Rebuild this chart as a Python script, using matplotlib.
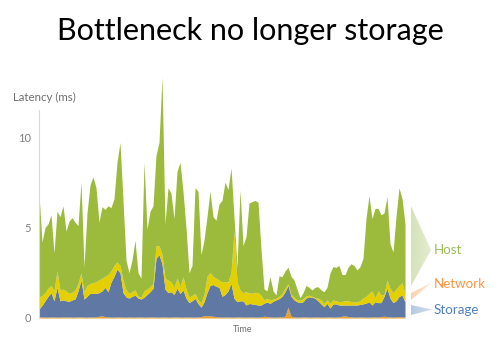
import numpy as np
import matplotlib
matplotlib.use("Agg")
import matplotlib.pyplot as plt
from matplotlib.patches import Polygon

plt.rcParams['font.family'] = ['Lato', 'DejaVu Sans']

network_top = [0.06, 0.06, 0.05, 0.05, 0.06, 0.06, 0.05, 0.05, 0.06, 0.06,
               0.06, 0.05, 0.05, 0.06, 0.06, 0.05, 0.05, 0.06, 0.06, 0.06,
               0.10, 0.12, 0.08, 0.06, 0.05, 0.05, 0.06, 0.06, 0.05, 0.05,
               0.06, 0.05, 0.05, 0.06, 0.06, 0.05, 0.05, 0.06, 0.06, 0.05,
               0.05, 0.06, 0.06, 0.05, 0.05, 0.06, 0.06, 0.05, 0.05, 0.06,
               0.06, 0.05, 0.05, 0.06, 0.08, 0.12, 0.14, 0.12, 0.10, 0.08,
               0.06, 0.05, 0.06, 0.06, 0.05, 0.05, 0.06, 0.06, 0.05, 0.05,
               0.06, 0.06, 0.05, 0.05, 0.06, 0.10, 0.08, 0.06, 0.05, 0.05,
               0.06, 0.06, 0.10, 0.60, 0.10, 0.06, 0.05, 0.05, 0.06, 0.06,
               0.05, 0.05, 0.06, 0.06, 0.05, 0.05, 0.06, 0.06, 0.05, 0.05,
               0.06, 0.10, 0.12, 0.08, 0.06, 0.05, 0.05, 0.06, 0.06, 0.05,
               0.05, 0.06, 0.06, 0.05, 0.08, 0.10, 0.08, 0.06, 0.05, 0.06,
               0.08, 0.06, 0.05]

storage_top = [0.50, 0.70, 0.95, 1.20, 1.40, 0.95, 1.70, 0.95, 1.00, 0.95,
               0.92, 1.00, 1.05, 1.50, 2.10, 1.05, 1.20, 1.36, 1.36, 1.36,
               1.40, 1.50, 1.70, 1.45, 1.99, 2.30, 2.70, 2.50, 1.40, 1.17,
               1.10, 1.20, 1.26, 1.10, 1.05, 1.15, 1.30, 1.45, 1.64, 3.30,
               3.50, 3.00, 1.60, 1.40, 1.45, 1.30, 1.65, 1.36, 1.55, 1.10,
               0.85, 0.95, 1.09, 0.80, 0.60, 0.90, 1.40, 1.80, 1.85, 1.75,
               1.70, 1.20, 1.30, 1.50, 1.92, 1.09, 0.90, 0.95, 0.95, 0.72,
               0.80, 0.78, 0.75, 0.72, 0.72, 0.82, 0.88, 0.81, 0.92, 1.00,
               1.07, 1.20, 1.45, 1.80, 1.20, 1.00, 0.90, 0.85, 0.90, 1.10,
               1.17, 1.15, 1.09, 0.95, 0.78, 0.63, 0.81, 0.55, 0.78, 0.78,
               0.72, 0.72, 0.72, 0.72, 0.72, 0.72, 0.72, 0.75, 0.78, 0.82,
               0.90, 0.72, 0.90, 0.85, 0.85, 1.20, 1.64, 1.10, 0.85, 0.95,
               1.20, 1.26, 0.90]

wait_top = [1.15, 1.25, 1.40, 1.65, 1.80, 1.50, 2.60, 1.55, 1.60, 1.50,
            1.36, 1.42, 1.55, 1.90, 2.50, 1.45, 1.80, 1.90, 1.95, 2.00,
            2.10, 2.20, 2.30, 2.40, 2.60, 2.90, 3.10, 2.90, 2.10, 1.55,
            1.36, 1.45, 1.55, 1.20, 1.15, 1.50, 1.60, 1.73, 1.92, 4.00,
            4.00, 3.50, 2.20, 2.10, 2.00, 1.70, 2.20, 1.75, 2.28, 1.60,
            1.15, 1.25, 1.36, 1.00, 0.85, 1.30, 2.30, 2.50, 2.30, 2.20,
            2.10, 2.00, 2.00, 2.00, 2.50, 4.80, 2.00, 1.55, 1.40, 1.45,
            1.40, 1.36, 1.42, 1.40, 1.26, 1.00, 1.09, 1.00, 1.05, 1.09,
            1.20, 1.35, 1.64, 1.90, 1.30, 1.15, 1.00, 1.00, 1.05, 1.22,
            1.26, 1.20, 1.12, 1.09, 1.00, 0.81, 1.00, 0.81, 1.00, 0.95,
            0.90, 0.92, 0.96, 0.95, 0.90, 0.90, 0.90, 0.95, 1.10, 1.20,
            1.36, 1.50, 1.10, 1.50, 1.26, 1.30, 2.10, 1.64, 1.40, 1.60,
            1.80, 1.95, 1.36]

host_top = [6.85, 4.20, 5.00, 5.20, 5.70, 3.60, 5.90, 5.60, 6.20, 4.80,
            5.35, 5.55, 5.30, 5.10, 7.50, 2.84, 5.80, 7.35, 7.80, 7.20,
            5.30, 6.15, 6.00, 6.20, 6.10, 6.60, 8.60, 9.70, 6.50, 3.20,
            2.50, 3.20, 4.30, 2.50, 2.20, 8.60, 4.90, 5.90, 6.20, 9.00,
            9.70, 13.30, 5.20, 7.20, 6.90, 5.50, 8.10, 8.60, 7.00, 5.00,
            2.50, 2.90, 7.20, 7.00, 3.50, 4.30, 5.60, 7.00, 5.60, 5.40,
            6.30, 6.50, 7.50, 7.10, 8.30, 5.60, 2.80, 7.07, 4.00, 4.50,
            6.35, 6.43, 6.50, 6.40, 3.80, 1.60, 1.50, 2.28, 1.50, 1.27,
            2.33, 2.28, 2.60, 2.80, 2.30, 2.10, 1.60, 1.12, 1.40, 1.80,
            1.70, 1.55, 1.70, 1.73, 1.55, 1.45, 1.70, 2.50, 2.84, 2.80,
            2.90, 2.40, 2.40, 2.80, 3.00, 2.90, 2.65, 2.84, 3.30, 5.50,
            6.75, 5.50, 6.06, 6.06, 5.70, 5.80, 6.70, 4.10, 3.65, 5.60,
            7.20, 6.60, 5.20]

y_ticks = [0, 5, 10]
legend_labels = ["Host", "Network", "Storage"]

t = np.arange(len(host_top))

fig = plt.figure(figsize=(5.0, 3.51), dpi=100)
ax = fig.add_axes([39 / 500, 1 - 318 / 351, 366 / 500, 242.5 / 351])

ax.fill_between(t, 0, network_top, color="#E8A12C", lw=0)
ax.fill_between(t, network_top, storage_top, color="#5F78A4", lw=0)
ax.fill_between(t, storage_top, wait_top, color="#E4CF00", lw=0)
ax.fill_between(t, wait_top, host_top, color="#9CBA3C", lw=0)

ax.set_xlim(0, len(t) - 1)
ax.set_ylim(0, 13.4)
ax.set_yticks(y_ticks)
ax.set_yticklabels([str(v) for v in y_ticks])
ax.set_xticks([])
ax.tick_params(axis="y", length=0, pad=6, labelsize=8, labelcolor="#7f7f7f")
for s in ["top", "right", "bottom"]:
    ax.spines[s].set_visible(False)
ax.spines["left"].set_color("#d9d9d9")
ax.spines["left"].set_bounds(0, 11.5)
ax.set_facecolor("none")

fig.text(0.5, 1 - 31 / 351, "Bottleneck no longer storage", ha="center", va="center",
         fontsize=22, color="black")
fig.text(13 / 500, 1 - 97 / 351, "Latency (ms)", ha="left", va="center",
         fontsize=8.3, color="#6f6f6f")
fig.text(243 / 500, 1 - 329 / 351, "Time", ha="center", va="center",
         fontsize=6.5, color="#6f6f6f")

# legend wedges in pixel space
ov = fig.add_axes([0, 0, 1, 1])
ov.set_xlim(0, 500)
ov.set_ylim(351, 0)
ov.axis("off")
ov.patch.set_alpha(0)

wedges = [
    ([(410.5, 205), (410.5, 287), (431, 250)], "#9BBB59", 250),
    ([(411, 300), (411, 293), (431, 283)], "#F79646", 284),
    ([(411, 305), (411, 315), (432, 309.5)], "#4F81BD", 309.5),
]
grad = np.linspace(0.42, 0.28, 64).reshape(1, -1)
for (pts, col, ty), label in zip(wedges, legend_labels):
    poly = Polygon(pts, closed=True, facecolor="none", edgecolor="none")
    ov.add_patch(poly)
    xs = [p[0] for p in pts]
    ys = [p[1] for p in pts]
    rgb = matplotlib.colors.to_rgb(col)
    img = np.zeros((1, 64, 4))
    img[..., :3] = rgb
    img[..., 3] = grad
    im = ov.imshow(img, extent=(min(xs), max(xs), max(ys), min(ys)), aspect="auto",
                   interpolation="bilinear")
    im.set_clip_path(poly)
    ov.text(434, ty, label, ha="left", va="center", fontsize=9.6, color=col)
ov.set_xlim(0, 500)
ov.set_ylim(351, 0)

fig.savefig("out.png", dpi=100)
